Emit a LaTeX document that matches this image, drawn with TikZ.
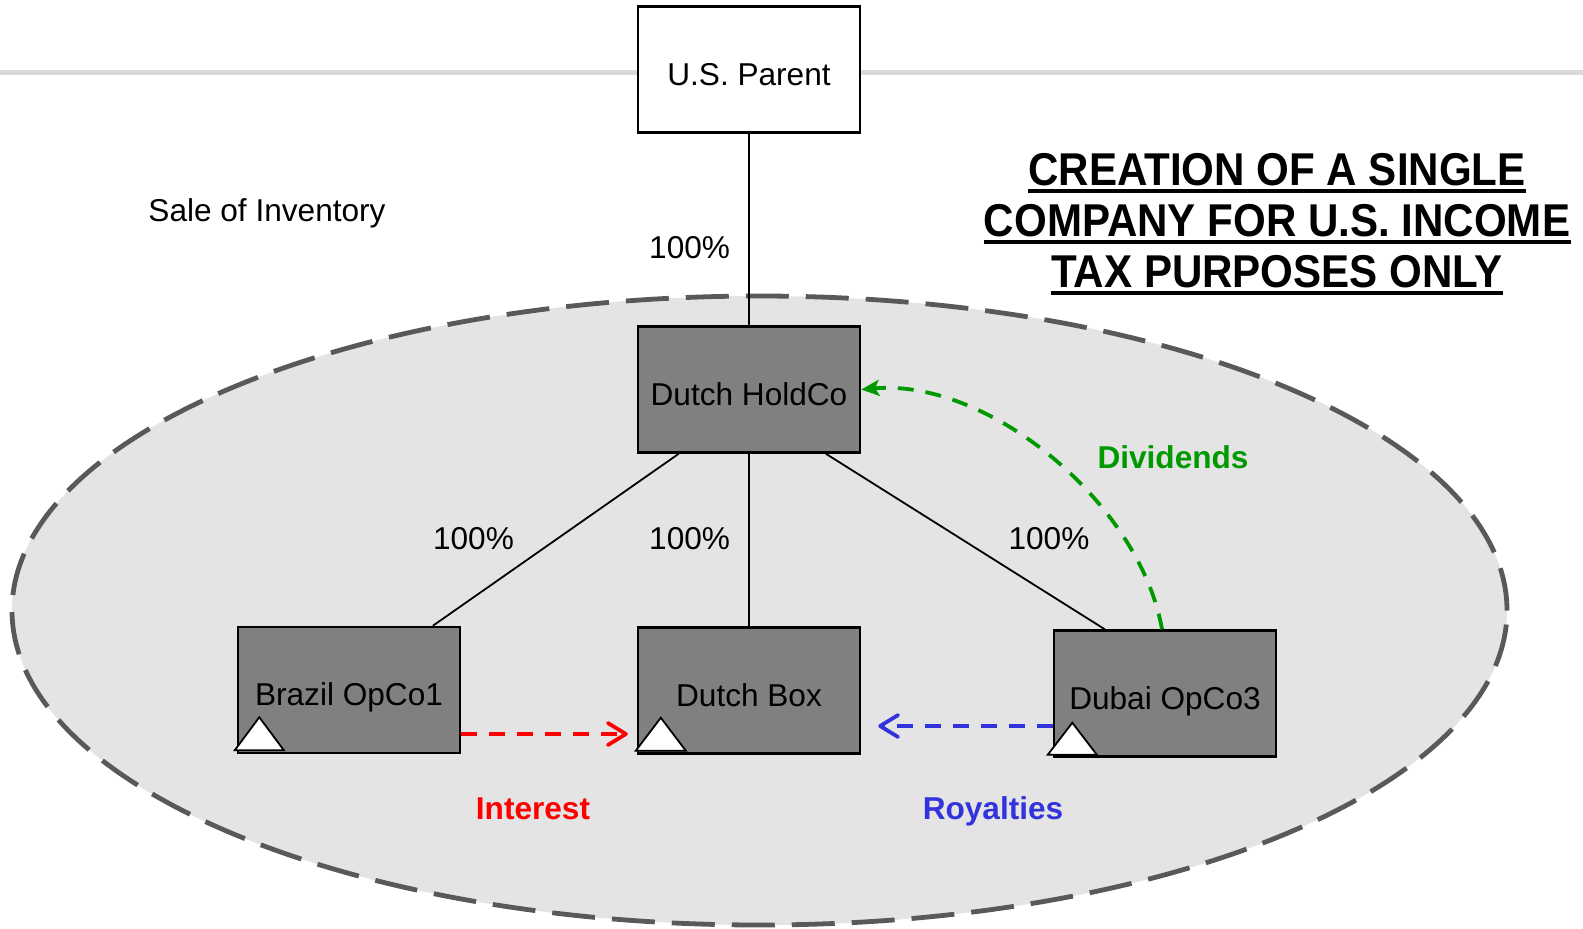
\documentclass[tikz,border=0pt]{standalone}
\usepackage{fontspec}
\setmainfont{Liberation Sans}
\newfontfamily\titlefont[FakeStretch=0.915]{Liberation Sans}
\usetikzlibrary{arrows.meta,calc}
\definecolor{regionfill}{HTML}{E4E4E4}
\definecolor{regionedge}{HTML}{595959}
\definecolor{boxfill}{HTML}{808080}
\definecolor{rulegray}{HTML}{D9D9D9}
\definecolor{intred}{HTML}{FF0000}
\definecolor{divgreen}{HTML}{009900}
\definecolor{royblue}{HTML}{3333DD}

\begin{document}
\begin{tikzpicture}[x=0.5pt,y=-0.5pt,
  entity/.style={draw=black, line width=1.2pt, minimum width=111pt, minimum height=63pt,
    inner sep=0pt, font=\fontsize{15.8}{19}\selectfont, text height=15.8pt, text depth=0pt},
  company/.style={entity, fill=boxfill},
  share/.style={inner sep=0pt, font=\fontsize{15.8}{19}\selectfont, text height=11.3pt, text depth=0pt},
  flowlabel/.style={share, font=\fontsize{15.8}{19}\selectfont\bfseries},
  own/.style={line width=0.9pt},
  flow/.style={line width=1.9pt, dash pattern=on 8pt off 6pt},
  tri/.style={draw=black, fill=white, line width=0.9pt, line join=miter},
  titleline/.style={inner sep=0pt, anchor=base, font=\titlefont\bfseries\fontsize{23}{25.5}\selectfont},
  uline/.style={line width=1.6pt}
]
\useasboundingbox (0,0) rectangle (1583,928);

% horizontal rule across the top
\coordinate (rl) at (0,72);
\coordinate (rr) at (1583,72);
\draw[rulegray, line width=2.5pt] (rl) -- (rr);

% the consolidated group
\fill[regionfill] (759.5,610.5) ellipse [x radius=373.75pt, y radius=157.25pt];
\draw[regionedge, line width=2.4pt, dash pattern=on 21.5pt off 8.5pt]
  (759.5,610.5) ellipse [x radius=373.75pt, y radius=157.25pt];

% entities
\node[entity, fill=white] (parent) at (749,69.5) {U.S. Parent};
\node[company] (hold) at (749,389.5) {Dutch HoldCo};
\node[company] (brazil) at (349,690) {Brazil OpCo1};
\node[company] (dbox) at (749,690.5) {Dutch Box};
\node[company] (dubai) at (1165,693.5) {Dubai OpCo3};

% ownership lines
\draw[own] (parent.south) -- (hold.north);
\draw[own] ([xshift=21pt]hold.south west) -- ([xshift=98pt]brazil.north west);
\draw[own] (hold.south) -- (dbox.north);
\draw[own] ([xshift=94.5pt]hold.south west) -- ([xshift=26pt]dubai.north west);

% check-the-box markers
\draw[tri] ([shift={(-1pt,2pt)}]brazil.south west) -- ++(24.5pt,0) -- ++(-12.25pt,16.5pt) -- cycle;
\draw[tri] ([shift={(-0.5pt,2pt)}]dbox.south west) -- ++(25pt,0) -- ++(-12.5pt,16.5pt) -- cycle;
\draw[tri] ([shift={(-2.5pt,1.5pt)}]dubai.south west) -- ++(24.5pt,0) -- ++(-12.25pt,16pt) -- cycle;

% payment flows
\coordinate (is) at ([yshift=-22pt]brazil.east);
\draw[flow, intred, -{Straight Barb[length=9pt,width=11pt,round]}]
  (is) -- ($(dbox.west |- is)+(-4.5pt,0)$);
\coordinate (rs) at ([yshift=-16.25pt]dubai.west);
\draw[flow, royblue, -{Straight Barb[length=9pt,width=11pt,round]}]
  (rs) -- ($(dbox.east |- rs)+(8.5pt,0)$);
\draw[flow, divgreen, -{Stealth[length=9pt,width=8pt,inset=2pt]}]
  ([xshift=-1.5pt]dubai.north) to[out=100,in=5,looseness=0.85] (hold.east);

% labels
\node[share] (pct0) at (689.6,247) {100\%};
\node[share] (pct1) at (473.5,538) {100\%};
\node[share] (pct2) at (689.6,538) {100\%};
\node[share] (pct3) at (1049,538) {100\%};
\node[share] (sale) at (267,210.5) {Sale of Inventory};
\node[flowlabel, text=divgreen] (div) at (1173,457.5) {Dividends};
\node[flowlabel, text=intred] (int) at (533,808) {Interest};
\node[flowlabel, text=royblue] (roy) at (993,808) {Royalties};

% heading
\node[titleline] (t1) at (1277,185) {CREATION OF A SINGLE};
\node[titleline] (t2) at (1277,236) {COMPANY FOR U.S. INCOME};
\node[titleline] (t3) at (1277,287) {TAX PURPOSES ONLY};
\draw[uline] ([yshift=-3pt]t1.base west) -- ([yshift=-3pt]t1.base east);
\draw[uline] ([yshift=-3pt]t2.base west) -- ([yshift=-3pt]t2.base east);
\draw[uline] ([yshift=-3pt]t3.base west) -- ([yshift=-3pt]t3.base east);
\end{tikzpicture}
\end{document}
